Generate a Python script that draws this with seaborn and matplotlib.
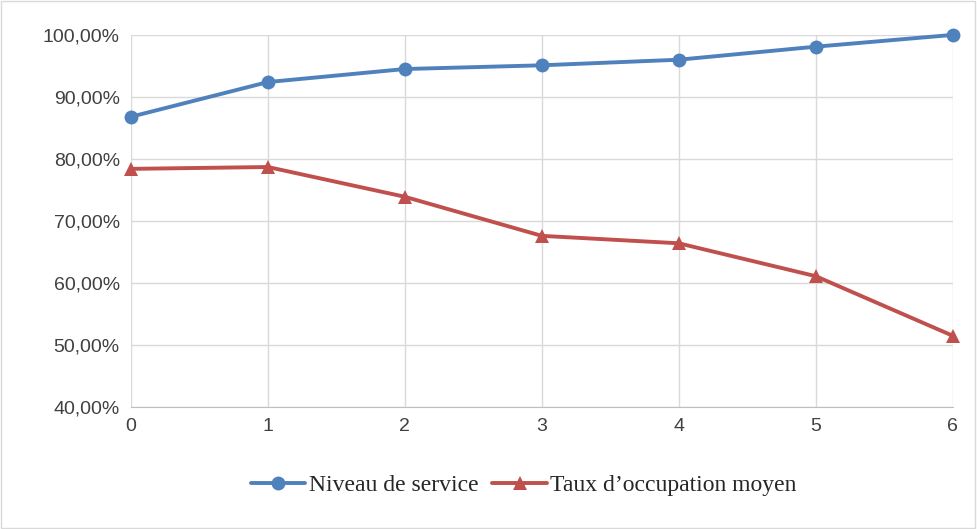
import matplotlib
matplotlib.use("Agg")
import matplotlib.pyplot as plt
import seaborn as sns
import pandas as pd
from matplotlib.ticker import FuncFormatter

x = [0, 1, 2, 3, 4, 5, 6]
niveau = [86.8, 92.4, 94.5, 95.1, 96.0, 98.1, 100.0]
taux = [78.4, 78.7, 73.9, 67.6, 66.4, 61.1, 51.5]

sns.set_style("white")
plt.rcParams['font.family'] = ['Liberation Sans', 'DejaVu Sans']

fig = plt.figure(figsize=(9.77, 5.29), dpi=100)
ax = fig.add_axes([0.134, 0.2306, 0.841, 0.7034])
df = pd.DataFrame({"x": x, "Niveau de service": niveau, "Taux d\u2019occupation moyen": taux})
sns.lineplot(data=df, x="x", y="Niveau de service", ax=ax, color="#4F81BD", marker="o",
             markersize=10, linewidth=2.8, label="Niveau de service", markeredgewidth=0)
sns.lineplot(data=df, x="x", y="Taux d\u2019occupation moyen", ax=ax, color="#C0504D", marker="^",
             markersize=10, linewidth=2.8, label="Taux d\u2019occupation moyen", markeredgewidth=0)
ax.set_xlim(0, 6)
ax.set_ylim(40, 100)
ax.set_yticks(range(40, 101, 10))
ax.set_xticks(x)
ax.yaxis.set_major_formatter(FuncFormatter(lambda v, p: f"{v:.2f}%".replace(".", ",")))
ax.grid(True, color="#D9D9D9", linewidth=1)
for s in ["top", "right", "left"]:
    ax.spines[s].set_visible(False)
ax.spines["bottom"].set_color("#BFBFBF")
ax.tick_params(axis="both", length=0, labelsize=14, colors="#404040", pad=8)
ax.set_xlabel("")
ax.set_ylabel("")
for c in ax.get_children():
    if hasattr(c, "set_clip_on"):
        c.set_clip_on(False)
leg = ax.legend(loc="upper center", bbox_to_anchor=(0.478, -0.125), ncol=2, frameon=False,
                prop={"family": "Liberation Serif", "size": 17}, handlelength=2.3,
                handletextpad=0.15, columnspacing=0.6)
fig.patches.append(matplotlib.patches.Rectangle((0.001, 0.001), 0.997, 0.997, transform=fig.transFigure,
                   fill=False, edgecolor="#D9D9D9", linewidth=1))
fig.savefig("out.png", dpi=100)
